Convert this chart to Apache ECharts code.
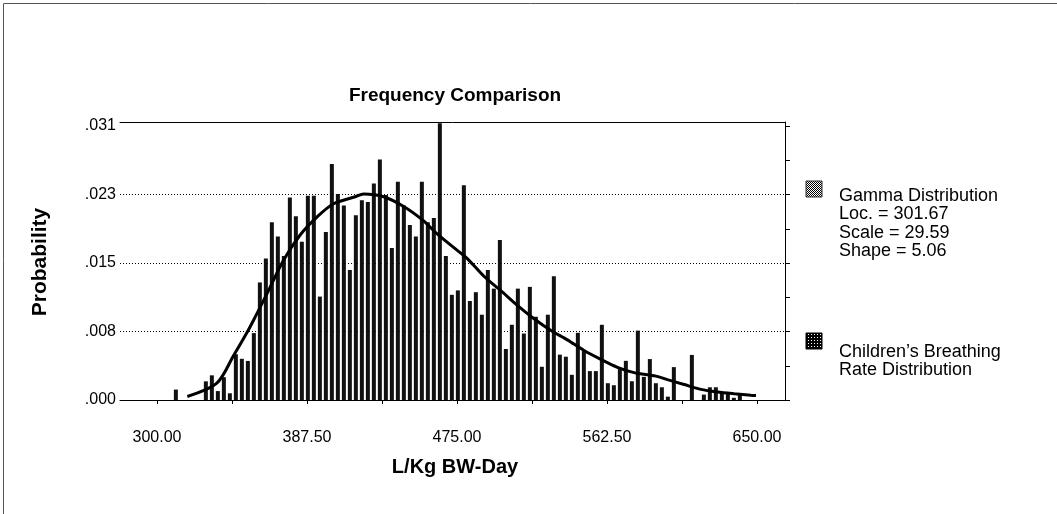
<!DOCTYPE html>
<html><head><meta charset="utf-8">
<script src="https://cdn.jsdelivr.net/npm/echarts@6/dist/echarts.min.js"></script>
<style>html,body{margin:0;padding:0;background:#fff}#c{width:1057px;height:514px}</style>
</head><body><div id="c"></div>
<script>
// ---- data ----
const binStart = 300.5;   // centre of first 3.5-wide bin
const binWidth = 3.5;
const barValues = [
  0, 0, 0, 0.00118, 0, 0, 0, 0, 0.00211, 0.00279,
  0.00101, 0.00258, 0.00076, 0.00518, 0.00466, 0.00442, 0.00757, 0.0133, 0.0160, 0.0201,
  0.0185, 0.0163, 0.0229, 0.0208, 0.0179, 0.0231, 0.0231, 0.0117, 0.0190, 0.0267,
  0.0233, 0.0220, 0.0147, 0.0209, 0.0226, 0.0224, 0.0245, 0.0272, 0.0232, 0.0172,
  0.0247, 0.0220, 0.0198, 0.0185, 0.0247, 0.0201, 0.0206, 0.0313, 0.0163, 0.0119,
  0.0124, 0.0243, 0.0112, 0.0122, 0.00965, 0.0147, 0.0126, 0.0181, 0.00577, 0.00851,
  0.0126, 0.00752, 0.0128, 0.00942, 0.00376, 0.00965, 0.0140, 0.00513, 0.0049, 0.00285,
  0.0076, 0.00555, 0.00327, 0.00327, 0.00851, 0.0019, 0.00167, 0.0035, 0.00443, 0.00212,
  0.00785, 0.00262, 0.00463, 0.0019, 0.00144, 0.00038, 0.00372, 0, 0, 0.0051,
  0, 0.00061, 0.00144, 0.00144, 0.00091, 0.00076, 0.00025, 0.00076, 0, 0
];
const curveX = [317.7, 334.9, 344.6, 352.4, 357.3, 364.1, 373.8, 383.6, 393.3, 403.0,
  415.7, 420.5, 432.2, 443.9, 454.7, 463.4, 474.1, 481.0, 490.7, 500.4,
  510.2, 519.9, 529.6, 539.4, 549.1, 558.9, 568.6, 578.3, 591.0, 597.8,
  607.5, 617.3, 627.0, 636.7, 646.5, 649.4];
const curveY = [0.0004, 0.0019, 0.0050, 0.0076, 0.0094, 0.0120, 0.0158, 0.0187, 0.0207, 0.0222,
  0.0230, 0.0233, 0.0230, 0.0219, 0.0204, 0.0188, 0.0171, 0.0160, 0.0140, 0.0124,
  0.0107, 0.0092, 0.0079, 0.0068, 0.0056, 0.0046, 0.0037, 0.0031, 0.0027, 0.0023,
  0.00175, 0.0012, 0.0009, 0.0007, 0.00053, 0.0005];
const xTickLabels = ['300.00', '', '387.50', '', '475.00', '', '562.50', '', '650.00'];
const yTickLabels = ['.000', '.008', '.015', '.023', '.031'];
const legendGamma = ['Gamma Distribution', 'Loc. = 301.67', 'Scale = 29.59', 'Shape = 5.06'];
const legendChildren = ['Children\u2019s Breathing', 'Rate Distribution'];
const chartTitle = 'Frequency Comparison';
const xTitle = 'L/Kg BW-Day';
const yTitle = 'Probability';

// ---- build ----
const FONT = '"Liberation Sans", Arial, sans-serif';
const xMin = 300, xMax = 650, xInt = 43.75;
const yMax = 0.031, yInt = 0.00775;

function pattern(size, draw) {
  const c = document.createElement('canvas');
  c.width = size; c.height = size;
  const g = c.getContext('2d');
  draw(g);
  return {image: c, repeat: 'repeat'};
}
const gammaPat = pattern(2, g => { g.fillStyle = '#fff'; g.fillRect(0,0,2,2); g.fillStyle = '#000'; g.fillRect(0,0,1,1); g.fillRect(1,1,1,1); });
const childPat = pattern(3, g => { g.fillStyle = '#000'; g.fillRect(0,0,3,3); g.fillStyle = '#fff'; g.fillRect(1,1,1,1); });

const barData = barValues.map((v, k) => [binStart + binWidth * k, v]);
const curveData = curveX.map((x, i) => [x, curveY[i]]);

const frameL = 120, frameR = 1057 - 785, plotTop = 126, frameTop = 122, plotBottom = 514 - 400;
const dataL = 157, dataR = 1057 - 757;

const noAx = {axisLine:{show:false, onZero:false}, axisTick:{show:false}, axisLabel:{show:false}, splitLine:{show:false}};
const blackLine = {show:true, onZero:false, lineStyle:{color:'#000', width:1}};

const graphic = [
  {type:'rect', shape:{x:3.5, y:3.5, width:1200, height:600}, style:{fill:null, stroke:'#555', lineWidth:1}, silent:true},
  {type:'text', x:455, y:96, style:{text:chartTitle, font:'bold 19px ' + FONT, fill:'#000', align:'center', verticalAlign:'middle', textAlign:'center', textVerticalAlign:'middle'}},
  {type:'text', x:455, y:467, style:{text:xTitle, font:'bold 20px ' + FONT, fill:'#000', align:'center', verticalAlign:'middle', textAlign:'center', textVerticalAlign:'middle'}},
  {type:'text', x:40, y:262, rotation:Math.PI/2, style:{text:yTitle, font:'bold 21px ' + FONT, fill:'#000', align:'center', verticalAlign:'middle', textAlign:'center', textVerticalAlign:'middle'}},
  {type:'rect', shape:{x:806, y:181, width:16, height:16}, style:{fill:gammaPat, stroke:'#333', lineWidth:1}},
  {type:'rect', shape:{x:806, y:333, width:16, height:16}, style:{fill:childPat, stroke:'#000', lineWidth:1}}
];
legendGamma.forEach((t, i) => graphic.push({type:'text', x:839, y:196 + i * 18.5, style:{text:t, font:'18px ' + FONT, fill:'#000', align:'left', verticalAlign:'middle', textAlign:'left', textVerticalAlign:'middle'}}));
legendChildren.forEach((t, i) => graphic.push({type:'text', x:839, y:352 + i * 18.5, style:{text:t, font:'18px ' + FONT, fill:'#000', align:'left', verticalAlign:'middle', textAlign:'left', textVerticalAlign:'middle'}}));

const option = {
  animation: false,
  backgroundColor: '#fff',
  grid: [
    {left: frameL, right: frameR, top: frameTop, bottom: plotBottom},
    {left: frameL, right: frameR, top: plotTop, bottom: plotBottom},
    {left: dataL, right: dataR, top: plotTop, bottom: plotBottom}
  ],
  xAxis: [
    Object.assign({gridIndex:0, type:'value', min:0, max:1, position:'bottom'}, noAx, {axisLine:blackLine}),
    Object.assign({gridIndex:0, type:'value', min:0, max:1, position:'top'}, noAx, {axisLine:blackLine}),
    Object.assign({gridIndex:1, type:'value', min:0, max:1}, noAx),
    {gridIndex:2, type:'value', min:xMin, max:xMax, interval:xInt, position:'bottom',
     axisLine:{show:false, onZero:false}, splitLine:{show:false},
     axisTick:{show:true, length:4, lineStyle:{color:'#000'}},
     axisLabel:{show:true, margin:30, color:'#000', fontFamily:FONT, fontSize:16, showMinLabel:true, showMaxLabel:true, hideOverlap:false,
       formatter: v => xTickLabels[Math.round((v - xMin) / xInt)] || ''}}
  ],
  yAxis: [
    Object.assign({gridIndex:0, type:'value', min:0, max:1, position:'right'}, noAx, {axisLine:blackLine}),
    {gridIndex:1, type:'value', min:0, max:yMax, interval:yInt, position:'left',
     axisLine:{show:false, onZero:false}, axisTick:{show:false},
     axisLabel:{show:true, margin:4, color:'#000', fontFamily:FONT, fontSize:16, showMinLabel:true, showMaxLabel:true,
       formatter: v => yTickLabels[Math.round(v / yInt)] || ''},
     splitLine:{show:true, showMinLine:false, showMaxLine:false, lineStyle:{color:'#000', width:1, type:[1,2]}}},
    {gridIndex:1, type:'value', min:0, max:yMax, interval:yInt/2, position:'right',
     axisLine:{show:false, onZero:false}, axisLabel:{show:false}, splitLine:{show:false},
     axisTick:{show:true, length:5, lineStyle:{color:'#000'}}},
    Object.assign({gridIndex:2, type:'value', min:0, max:yMax}, noAx)
  ],
  series: [
    {type:'bar', name:'Children\u2019s Breathing Rate Distribution', xAxisIndex:3, yAxisIndex:3, data:barData,
     barWidth:4, clip:false, itemStyle:{color:'#111'}, silent:true},
    {type:'line', name:'Gamma Distribution', xAxisIndex:3, yAxisIndex:3, data:curveData,
     smooth:0.3, showSymbol:false, symbol:'none', clip:false, lineStyle:{color:'#000', width:3}, silent:true}
  ],
  graphic: graphic
};
const chart = echarts.init(document.getElementById('c'), null, {renderer:'canvas'});
chart.setOption(option);
</script></body></html>
